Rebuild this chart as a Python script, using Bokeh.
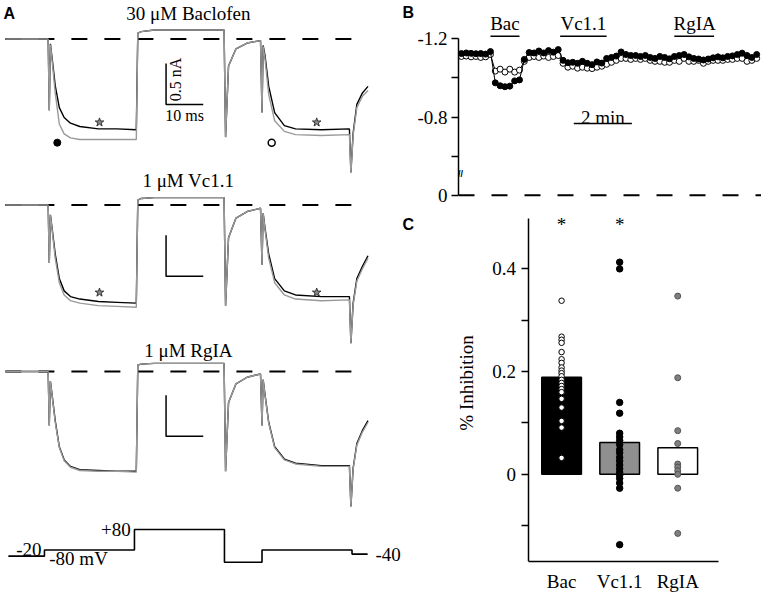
import math
from bokeh.plotting import figure
from bokeh.layouts import row, column
from bokeh.models import Range1d, FixedTicker, Label, CustomJSTickFormatter
from bokeh.core.properties import value
from bokeh.embed import file_html
from bokeh.resources import INLINE

SERIF = "Liberation Serif"
SANS = "Liberation Sans"
INK = "black"

# ---------------- Panel A: current traces (ms, nA) ----------------
CONDITIONS = ["30 \u03bcM Baclofen", "1 \u03bcM Vc1.1", "1 \u03bcM RgIA"]
T_MS = [0, 11.5, 11.8, 12.1, 12.6, 13.4, 14.5, 15.8, 17.5, 20, 25, 30, 35.2, 35.6, 36.5, 40,
        58.8, 59.2, 60, 62, 65, 68.6, 69.0, 69.3, 69.8, 70.8, 72.4, 75, 78, 85, 92.5, 92.9,
        93.5, 94.5, 96, 97.5]
BAC_DRUG = [0.0, 0.0, -0.87, -0.06, -0.25, -0.57, -0.84, -0.96, -1.03, -1.07, -1.10, -1.10, -1.11,
            0.07, 0.09, 0.11, 0.11, -1.20, -0.33, -0.12, -0.05, -0.02, -0.90, -0.08, -0.20, -0.58,
            -0.90, -1.06, -1.10, -1.11, -1.10, -1.63, -1.15, -0.80, -0.66, -0.58]
BAC_CTRL = [0.0, 0.0, -0.88, -0.07, -0.28, -0.66, -1.04, -1.16, -1.21, -1.23, -1.23, -1.23, -1.23,
            0.07, 0.09, 0.11, 0.11, -1.20, -0.33, -0.12, -0.05, -0.02, -0.90, -0.09, -0.24, -0.68,
            -1.00, -1.13, -1.17, -1.18, -1.17, -1.64, -1.18, -0.84, -0.70, -0.63]
VC_DRUG = [0.0, 0.0, -0.71, -0.12, -0.30, -0.60, -0.90, -1.05, -1.12, -1.15, -1.18, -1.19, -1.20,
           0.06, 0.08, 0.09, 0.09, -1.23, -0.40, -0.16, -0.08, -0.04, -0.73, -0.10, -0.28, -0.60,
           -0.90, -1.05, -1.10, -1.12, -1.12, -1.69, -1.20, -0.90, -0.75, -0.62]
VC_CTRL = [0.0, 0.0, -0.71, -0.12, -0.32, -0.65, -0.95, -1.10, -1.17, -1.20, -1.23, -1.24, -1.25,
           0.06, 0.08, 0.09, 0.09, -1.23, -0.40, -0.16, -0.08, -0.04, -0.73, -0.10, -0.30, -0.65,
           -0.95, -1.10, -1.15, -1.17, -1.16, -1.69, -1.22, -0.93, -0.78, -0.65]
RGIA_DRUG = [0.0, 0.0, -0.66, -0.12, -0.30, -0.60, -0.92, -1.08, -1.16, -1.20, -1.21, -1.22, -1.22,
             0.08, 0.09, 0.10, 0.10, -1.22, -0.38, -0.15, -0.07, -0.03, -0.66, -0.10, -0.28, -0.62,
             -0.92, -1.07, -1.12, -1.15, -1.15, -1.65, -1.18, -0.88, -0.72, -0.60]
RGIA_CTRL = [0.0, 0.0, -0.66, -0.12, -0.31, -0.62, -0.93, -1.09, -1.17, -1.21, -1.22, -1.22, -1.23,
             0.08, 0.09, 0.10, 0.10, -1.22, -0.38, -0.15, -0.07, -0.03, -0.66, -0.10, -0.29, -0.63,
             -0.93, -1.08, -1.13, -1.16, -1.16, -1.65, -1.19, -0.90, -0.74, -0.62]
DRUG = [BAC_DRUG, VC_DRUG, RGIA_DRUG]
CTRL = [BAC_CTRL, VC_CTRL, RGIA_CTRL]

# voltage protocol
PROTO_EDGES_MS = [0.8, 10.5, 34.7, 58.9, 69.0, 93.2, 97.4]
PROTO_MV = [-50, -20, 80, -80, -20, -40]
PROTO_LABELS = ["+80", "-20", "-80 mV", "-40"]

# scale bar sizes
SCALE_MS = 10
SCALE_NA = 0.5

# layout constants for panel A (stacking offsets etc.)
A_OFFSETS = [0.0, -2.03, -4.066]
A_TITLE_DY = [0.315, 0.298, 0.251]
A_BAR_Y = [-0.80, -0.87, -0.79]
BAR_T0 = 43.2
DASH_END = 94.2
PROTO_Y_AT_M20 = -6.248
MV_TO_NA = 0.0025

pa = figure(width=414, height=594, x_range=Range1d(-1.316, 110.0), y_range=Range1d(-6.792, 0.470),
            x_axis_type=None, y_axis_type=None, output_backend="svg", toolbar_location=None,
            min_border=0)
pa.grid.visible = False
pa.outline_line_color = None

for i in range(3):
    off = A_OFFSETS[i]
    pa.line([0, DASH_END], [off, off], line_color=INK, line_width=2, line_dash="16 17")
    pa.line(T_MS, [v + off for v in DRUG[i]], line_color=INK, line_width=1.4)
    pa.line(T_MS, [v + off for v in CTRL[i]], line_color="#999999", line_width=1.4)
    pa.text(x=[49.2], y=[off + A_TITLE_DY[i]], text=[CONDITIONS[i]], text_font=value(SERIF),
            text_font_size="19px", text_align="center", text_baseline="middle", text_color=INK)
    by = off + A_BAR_Y[i]
    pa.line([BAR_T0, BAR_T0, BAR_T0 + SCALE_MS], [by + SCALE_NA, by, by], line_color=INK, line_width=1.5)

# scale bar labels (first panel)
pa.text(x=[BAR_T0 + 2.6], y=[A_BAR_Y[0] + SCALE_NA * 0.61], text=["%g nA" % SCALE_NA], angle=math.pi / 2,
        text_font=value(SERIF), text_font_size="16px", text_align="center", text_baseline="middle",
        text_color=INK)
pa.text(x=[BAR_T0 + 5.0], y=[A_BAR_Y[0] - 0.135], text=["%d ms" % SCALE_MS],
        text_font=value(SERIF), text_font_size="16px", text_align="center", text_baseline="middle",
        text_color=INK)

# stars and circles (annotations)
STAR_T = [25.3, 83.7]
for i, sy in [(0, -1.02), (1, -1.07)]:
    pa.scatter(x=STAR_T, y=[A_OFFSETS[i] + sy] * 2, marker="star", size=9,
               fill_color="#8a8a8a", line_color="#333333", line_width=1)
pa.scatter(x=[13.95], y=[-1.268], size=7, fill_color=INK, line_color=INK)
pa.scatter(x=[71.6], y=[-1.268], size=7, fill_color="white", line_color=INK, line_width=1.5)

# protocol
def proto_y(mv):
    return PROTO_Y_AT_M20 + (mv + 20) * MV_TO_NA

px, py = [], []
for k, mv in enumerate(PROTO_MV):
    px += [PROTO_EDGES_MS[k], PROTO_EDGES_MS[k + 1]]
    py += [proto_y(mv), proto_y(mv)]
pa.line(px, py, line_color=INK, line_width=1.6)
proto_text = dict(text_font=value(SERIF), text_font_size="19px", text_baseline="middle", text_color=INK)
pa.text(x=[33.7], y=[proto_y(80)], text=[PROTO_LABELS[0]], text_align="right", **proto_text)
pa.text(x=[9.7], y=[proto_y(-20) + 0.01], text=[PROTO_LABELS[1]], text_align="right", **proto_text)
pa.text(x=[11.8], y=[proto_y(-80) + 0.045], text=[PROTO_LABELS[2]], text_align="left", **proto_text)
pa.text(x=[99.5], y=[proto_y(-40)], text=[PROTO_LABELS[3]], text_align="left", **proto_text)

# panel letters (drawn in the left canvas, which extends to the right column's edge)
pa.text(x=[-0.53, 106.8, 106.8], y=[0.315, 0.321, -2.268], text=["A", "B", "C"], text_font=value(SANS),
        text_font_style="bold", text_font_size="16px", text_align="left", text_baseline="middle",
        text_color=INK)

# ---------------- Panel B: time course ----------------
SAMPLE_MIN = 1 / 6
B_FILLED = [-1.125, -1.128, -1.126, -1.124, -1.125, -1.122, -1.135,
            -0.975, -0.960, -0.955, -0.958, -0.985, -0.990,
            -1.095, -1.130, -1.128, -1.138, -1.128, -1.140, -1.132, -1.145,
            -1.090, -1.078, -1.080, -1.075, -1.085, -1.075, -1.068, -1.082, -1.076,
            -1.100, -1.105, -1.112, -1.133, -1.120, -1.115, -1.115, -1.110, -1.115, -1.105,
            -1.100, -1.110, -1.105, -1.098, -1.110, -1.115, -1.120, -1.108, -1.100, -1.097,
            -1.092, -1.097, -1.103, -1.108, -1.103, -1.110, -1.113, -1.120, -1.127, -1.115,
            -1.105, -1.120]
B_OPEN = [-1.110, -1.112, -1.108, -1.110, -1.105, -1.108, -1.120,
          -1.035, -1.045, -1.030, -1.045, -1.030, -1.040,
          -1.085, -1.105, -1.110, -1.105, -1.112, -1.105, -1.110, -1.115,
          -1.075, -1.055, -1.060, -1.050, -1.055, -1.050, -1.048, -1.055, -1.060,
          -1.070, -1.080, -1.090, -1.100, -1.100, -1.095, -1.100, -1.095, -1.100, -1.090,
          -1.085, -1.085, -1.080, -1.080, -1.090, -1.085, -1.100, -1.085, -1.085, -1.090,
          -1.075, -1.085, -1.090, -1.090, -1.090, -1.095, -1.095, -1.100, -1.100, -1.085,
          -1.090, -1.100]
B_T = [k * SAMPLE_MIN for k in range(len(B_FILLED))]
DRUG_NAMES = ["Bac", "Vc1.1", "RgIA"]
DRUG_START = [1.0, 3.4, 7.33]
DRUG_END = [2.0, 5.0, 8.7]
B_ZERO = -0.4  # position where the broken axis shows 0

RIGHT_W = 347
LEFT_BORDER = 41

pb = figure(width=RIGHT_W, height=209, x_range=Range1d(-0.1, 10.333), y_range=Range1d(-0.3265, -1.3965),
            x_axis_type=None, output_backend="svg", toolbar_location=None,
            min_border_left=LEFT_BORDER, min_border_right=0, min_border_top=0, min_border_bottom=0)
pb.grid.visible = False
pb.outline_line_color = None
ya = pb.yaxis[0]
ya.ticker = FixedTicker(ticks=[-1.2, -0.8, -0.4], minor_ticks=[-1.0, -0.6])
ya.formatter = CustomJSTickFormatter(code="if (Math.abs(tick + 0.4) < 1e-6) return '0'; return tick.toFixed(1);")
ya.bounds = (-1.2, -0.4)
ya.major_tick_out = 7
ya.major_tick_in = 0
ya.minor_tick_out = 7
ya.minor_tick_in = 0
ya.axis_line_width = 1.5
ya.axis_line_color = INK
ya.major_tick_line_width = 1.5
ya.minor_tick_line_width = 1.5
ya.major_tick_line_color = INK
ya.minor_tick_line_color = INK
ya.major_label_text_font = SERIF
ya.major_label_text_font_size = "19px"
ya.major_label_text_color = INK
ya.major_label_standoff = 4

pb.line([-0.1, 10.333], [B_ZERO, B_ZERO], line_color=INK, line_width=2, line_dash="16 17")
pb.line(B_T, B_OPEN, line_color=INK, line_width=1)
pb.scatter(B_T, B_OPEN, size=6, fill_color="white", line_color=INK, line_width=1)
pb.line(B_T, B_FILLED, line_color=INK, line_width=1)
pb.scatter(B_T, B_FILLED, size=6, fill_color=INK, line_color=INK)

for k in range(3):
    pb.line([DRUG_START[k], DRUG_END[k]], [-1.213, -1.213], line_color=INK, line_width=1.5)
pb.text(x=[1.5, 4.2, 8.03], y=[-1.2785] * 3, text=DRUG_NAMES, text_font=value(SERIF), text_font_size="19px",
        text_align="center", text_baseline="middle", text_color=INK)
pb.line([3.87, 5.87], [-0.7665, -0.7665], line_color=INK, line_width=1.5)
pb.text(x=[4.87], y=[-0.7985], text=["2 min"], text_font=value(SERIF), text_font_size="19px",
        text_align="center", text_baseline="middle", text_color=INK)
pb.add_layout(Label(x=-0.03, y=-0.509, text="//", text_font_size="9px", text_font_style="bold",
                    text_color=INK, text_align="center", text_baseline="middle"))

# ---------------- Panel C: % inhibition ----------------
CATS = ["Bac", "Vc1.1", "RgIA"]
BAR_MEANS = [0.189, 0.062, 0.052]
BAR_COLORS = [INK, "#8f8f8f", "white"]
BAC_PTS = [0.338, 0.268, 0.262, 0.256, 0.238, 0.224, 0.217, 0.208, 0.202, 0.197, 0.191, 0.184,
           0.178, 0.172, 0.166, 0.160, 0.147, 0.130, 0.104, 0.091, 0.032]
VC_PTS = [0.413, 0.400, 0.140, 0.119, 0.080, 0.073, 0.066, 0.058, 0.048, 0.042, 0.033, 0.026,
          0.018, 0.011, 0.004, -0.002, -0.008, -0.017, -0.027, -0.137]
RGIA_PTS = [0.347, 0.188, 0.085, 0.060, 0.020, 0.014, 0.007, 0.000, -0.027, -0.115]
SIGNIFICANT = [True, True, False]
C_AXIS_X = 0.437

pc = figure(width=RIGHT_W, height=385, x_range=Range1d(-0.775, 4.442), y_range=Range1d(-0.1697, 0.5156),
            output_backend="svg", toolbar_location=None,
            min_border_left=LEFT_BORDER, min_border_bottom=28, min_border_top=0, min_border_right=0)
pc.grid.visible = False
pc.outline_line_color = None
xa = pc.xaxis[0]
xa.ticker = FixedTicker(ticks=[1, 2, 3])
xa.formatter = CustomJSTickFormatter(args=dict(labels=CATS), code="return labels[Math.round(tick) - 1];")
xa.bounds = (C_AXIS_X, 3.71)
xa.major_tick_line_color = None
xa.minor_tick_line_color = None
xa.axis_line_width = 1.5
xa.axis_line_color = INK
xa.major_label_text_font = SERIF
xa.major_label_text_font_size = "19px"
xa.major_label_text_color = INK
xa.major_label_standoff = 3
yc = pc.yaxis[0]
yc.fixed_location = C_AXIS_X
yc.ticker = FixedTicker(ticks=[0, 0.2, 0.4], minor_ticks=[-0.1, 0.1, 0.3])
yc.formatter = CustomJSTickFormatter(code="if (Math.abs(tick) < 1e-9) return '0'; return tick.toFixed(1);")
yc.bounds = (-0.1697, 0.499)
yc.major_tick_out = 7
yc.major_tick_in = 0
yc.minor_tick_out = 7
yc.minor_tick_in = 0
yc.axis_line_width = 1.5
yc.axis_line_color = INK
yc.major_tick_line_width = 1.5
yc.minor_tick_line_width = 1.5
yc.major_tick_line_color = INK
yc.minor_tick_line_color = INK
yc.major_label_text_font = SERIF
yc.major_label_text_font_size = "19px"
yc.major_label_text_color = INK
yc.major_label_standoff = 6

pc.text(x=[-0.642], y=[0.178], text=["% Inhibition"], angle=math.pi / 2, text_font=value(SERIF),
        text_font_size="19px", text_align="center", text_baseline="middle", text_color=INK)

pc.vbar(x=[1, 2, 3], top=BAR_MEANS, bottom=0, width=0.683, fill_color=BAR_COLORS,
        line_color=INK, line_width=1.5)
pc.scatter([1] * len(BAC_PTS), BAC_PTS, size=5.5, fill_color="white", line_color=INK, line_width=1)
pc.scatter([2] * len(VC_PTS), VC_PTS, size=6.5, fill_color=INK, line_color=INK)
pc.scatter([3] * len(RGIA_PTS), RGIA_PTS, size=6, fill_color="#7f7f7f", line_color="#555555", line_width=1)
sig_x = [k + 1 for k in range(3) if SIGNIFICANT[k]]
pc.text(x=sig_x, y=[0.486] * len(sig_x), text=["*"] * len(sig_x), text_font=value(SERIF),
        text_font_size="19px", text_align="center", text_baseline="middle", text_color=INK)

layout = row(pa, column(pb, pc, spacing=0), spacing=0)
open("out.html", "w").write(file_html(layout, INLINE))
